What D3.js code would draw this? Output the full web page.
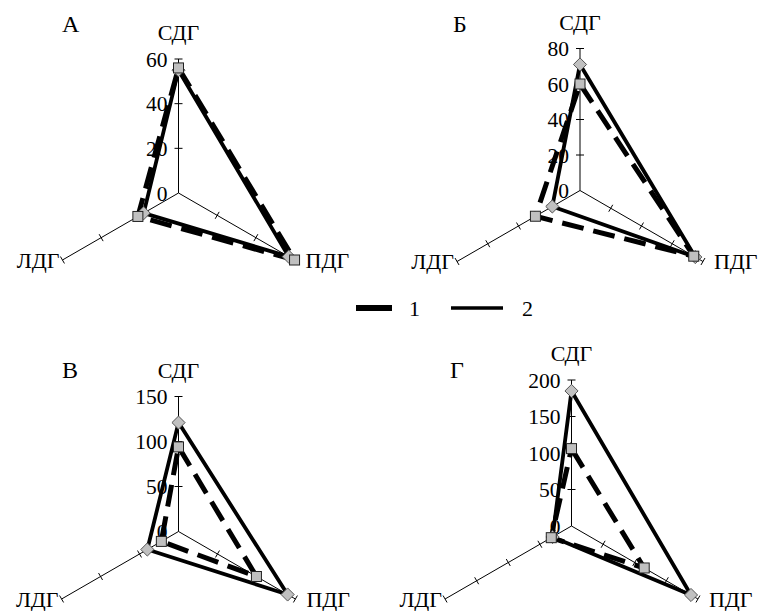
<!DOCTYPE html>
<html>
<head>
<meta charset="utf-8">
<script src="https://cdn.jsdelivr.net/npm/d3@7"></script>
<style>
  body { margin: 0; background: #fff; }
  text { font-family: "Liberation Serif", "Times New Roman", serif; fill: #000; }
</style>
</head>
<body>
<svg id="chart" width="765" height="611"></svg>
<script>
// axes of every radar, clockwise from top
var axisNames = ["СДГ", "ПДГ", "ЛДГ"];
var panelNames = ["А", "Б", "В", "Г"];
var seriesNames = ["1", "2"];

// axis maximum and tick step per panel
var axisMax = [60, 80, 150, 200];
var axisStep = [20, 20, 50, 50];

// values per panel, order СДГ, ПДГ, ЛДГ
var series1 = [
  [56, 60, 21],
  [60, 74, 29],
  [94, 100, 22],
  [106, 115, 32]
];
var series2 = [
  [55, 57, 18],
  [71, 75, 18],
  [121, 140, 40],
  [185, 189, 30]
];

// layout of the four panels
var layout = [
  {cx: 178.5, cy: 193, r: 134, lx: 62, ly: 32},
  {cx: 580, cy: 190.5, r: 142, lx: 453, ly: 32},
  {cx: 178.5, cy: 531.5, r: 135, lx: 62, ly: 378},
  {cx: 571.5, cy: 526, r: 146, lx: 450, ly: 378}
];

var svg = d3.select("#chart");
var angles = [-90, 30, 150].map(function (a) { return a * Math.PI / 180; });

function pt(p, i, v, rs) {
  var r = rs(v);
  return [p.cx + r * Math.cos(angles[i]), p.cy + r * Math.sin(angles[i])];
}

panelNames.forEach(function (name, k) {
  var p = layout[k];
  var g = svg.append("g");
  var rs = d3.scaleLinear().domain([0, axisMax[k]]).range([0, p.r]);
  var ticks = d3.range(0, axisMax[k] + 0.001, axisStep[k]);

  // axes
  axisNames.forEach(function (a, i) {
    var end = pt(p, i, axisMax[k], rs);
    g.append("line")
      .attr("x1", p.cx).attr("y1", p.cy)
      .attr("x2", end[0]).attr("y2", end[1])
      .attr("stroke", "#000").attr("stroke-width", 1);
    // ticks perpendicular to axis
    var nx = -Math.sin(angles[i]), ny = Math.cos(angles[i]);
    ticks.slice(1).forEach(function (t) {
      var q = pt(p, i, t, rs);
      g.append("line")
        .attr("x1", q[0] - nx * 4).attr("y1", q[1] - ny * 4)
        .attr("x2", q[0] + nx * 4).attr("y2", q[1] + ny * 4)
        .attr("stroke", "#000").attr("stroke-width", 1);
    });
  });

  // tick labels on the vertical axis
  g.selectAll("text.tick").data(ticks).enter().append("text")
    .attr("class", "tick")
    .attr("x", p.cx - 11)
    .attr("y", function (d) { return p.cy - rs(d); })
    .attr("dy", "0.35em")
    .attr("text-anchor", "end")
    .attr("font-size", 21.5)
    .text(function (d) { return d; });

  // axis names
  var top = pt(p, 0, axisMax[k], rs);
  g.append("text").attr("x", top[0]).attr("y", top[1] - 19)
    .attr("text-anchor", "middle").attr("font-size", 22).text(axisNames[0]);
  var right = pt(p, 1, axisMax[k], rs);
  g.append("text").attr("x", right[0] + 11).attr("y", right[1])
    .attr("dy", "0.35em").attr("font-size", 22).text(axisNames[1]);
  var left = pt(p, 2, axisMax[k], rs);
  g.append("text").attr("x", left[0] - 3).attr("y", left[1])
    .attr("dy", "0.35em").attr("text-anchor", "end").attr("font-size", 22).text(axisNames[2]);

  // panel letter
  g.append("text").attr("x", p.lx).attr("y", p.ly)
    .attr("font-size", 24).text(name);

  // series polygons
  var line = d3.line().curve(d3.curveLinearClosed);
  var pts2 = series2[k].map(function (v, i) { return pt(p, i, v, rs); });
  var pts1 = series1[k].map(function (v, i) { return pt(p, i, v, rs); });

  g.append("path").attr("d", line(pts2))
    .attr("fill", "none").attr("stroke", "#000")
    .attr("stroke-width", 3.8).attr("stroke-linejoin", "round");
  g.append("path").attr("d", line(pts1))
    .attr("fill", "none").attr("stroke", "#000")
    .attr("stroke-width", 5).attr("stroke-dasharray", "22,10");

  // markers: diamonds for 2, squares for 1
  g.selectAll("path.dia").data(pts2).enter().append("path")
    .attr("class", "dia")
    .attr("d", d3.symbol().type(d3.symbolDiamond2).size(110))
    .attr("transform", function (d) { return "translate(" + d[0] + "," + d[1] + ")"; })
    .attr("fill", "#c0c0c0").attr("stroke", "#555").attr("stroke-width", 1);
  g.selectAll("rect.sq").data(pts1).enter().append("rect")
    .attr("class", "sq")
    .attr("x", function (d) { return d[0] - 5; })
    .attr("y", function (d) { return d[1] - 5; })
    .attr("width", 10).attr("height", 10)
    .attr("fill", "#c0c0c0").attr("stroke", "#222").attr("stroke-width", 1);
});

// legend
var legend = [
  {x1: 356, x2: 392, tx: 409, w: 6},
  {x1: 451, x2: 503, tx: 522, w: 3.5}
];
seriesNames.forEach(function (s, i) {
  var l = legend[i];
  svg.append("line").attr("x1", l.x1).attr("x2", l.x2)
    .attr("y1", 308).attr("y2", 308)
    .attr("stroke", "#000").attr("stroke-width", l.w);
  svg.append("text").attr("x", l.tx).attr("y", 308).attr("dy", "0.35em")
    .attr("font-size", 22).text(s);
});
</script>
</body>
</html>
